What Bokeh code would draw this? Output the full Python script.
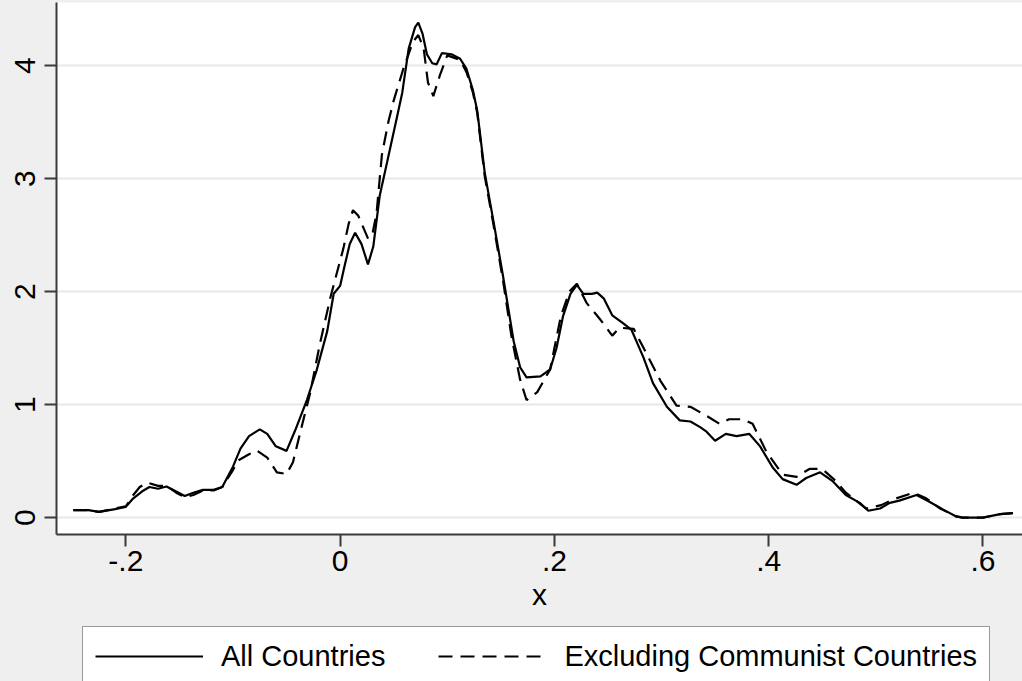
from bokeh.plotting import figure
from bokeh.layouts import column
from bokeh.models import Range1d, Legend, LegendItem, FixedTicker
from bokeh.embed import file_html
from bokeh.resources import INLINE

# ---- data ----
x_all = [-0.249, -0.235, -0.225, -0.210, -0.200, -0.193, -0.185, -0.178, -0.170, -0.162,
         -0.153, -0.145, -0.137, -0.128, -0.118, -0.110, -0.100, -0.093, -0.085, -0.075,
         -0.068, -0.060, -0.050, -0.042, -0.031, -0.022, -0.012, -0.006, 0.000, 0.004,
         0.009, 0.014, 0.020, 0.026, 0.031, 0.037, 0.044, 0.053, 0.058, 0.064,
         0.070, 0.073, 0.077, 0.081, 0.086, 0.090, 0.095, 0.104, 0.112, 0.118,
         0.124, 0.128, 0.135, 0.143, 0.152, 0.162, 0.168, 0.174, 0.187, 0.196,
         0.202, 0.208, 0.215, 0.221, 0.227, 0.235, 0.240, 0.246, 0.254, 0.264,
         0.272, 0.283, 0.292, 0.305, 0.317, 0.327, 0.336, 0.342, 0.350, 0.360,
         0.370, 0.382, 0.392, 0.404, 0.413, 0.426, 0.435, 0.448, 0.460, 0.472,
         0.485, 0.493, 0.504, 0.513, 0.522, 0.538, 0.550, 0.563, 0.575, 0.581,
         0.600, 0.616, 0.628]
y_all = [0.065, 0.065, 0.050, 0.075, 0.095, 0.170, 0.230, 0.270, 0.255, 0.275,
         0.230, 0.190, 0.220, 0.245, 0.245, 0.270, 0.450, 0.610, 0.720, 0.780,
         0.740, 0.630, 0.590, 0.770, 1.040, 1.300, 1.650, 1.980, 2.050, 2.220,
         2.420, 2.520, 2.420, 2.240, 2.400, 2.850, 3.150, 3.540, 3.760, 4.150,
         4.340, 4.380, 4.280, 4.100, 4.020, 4.010, 4.110, 4.100, 4.060, 3.970,
         3.780, 3.600, 3.050, 2.630, 2.140, 1.560, 1.330, 1.240, 1.250, 1.310,
         1.500, 1.780, 1.980, 2.060, 1.980, 1.980, 1.990, 1.940, 1.790, 1.720,
         1.660, 1.420, 1.190, 0.980, 0.860, 0.850, 0.800, 0.760, 0.680, 0.740,
         0.720, 0.740, 0.630, 0.440, 0.340, 0.290, 0.350, 0.400, 0.320, 0.200,
         0.130, 0.060, 0.080, 0.130, 0.150, 0.200, 0.140, 0.070, 0.010, 0.000,
         0.000, 0.030, 0.040]

x_excl = [-0.249, -0.235, -0.225, -0.210, -0.200, -0.193, -0.187, -0.180, -0.170, -0.162,
          -0.153, -0.145, -0.137, -0.128, -0.118, -0.110, -0.100, -0.096, -0.085, -0.078,
          -0.068, -0.059, -0.050, -0.044, -0.036, -0.028, -0.019, -0.009, 0.003, 0.008,
          0.012, 0.017, 0.026, 0.030, 0.034, 0.039, 0.045, 0.050, 0.059, 0.068,
          0.073, 0.078, 0.082, 0.087, 0.093, 0.100, 0.112, 0.118, 0.124, 0.128,
          0.135, 0.143, 0.152, 0.160, 0.168, 0.174, 0.184, 0.196, 0.206, 0.214,
          0.221, 0.230, 0.243, 0.254, 0.261, 0.274, 0.286, 0.299, 0.314, 0.327,
          0.342, 0.354, 0.363, 0.376, 0.385, 0.398, 0.413, 0.426, 0.438, 0.450,
          0.463, 0.472, 0.491, 0.505, 0.516, 0.535, 0.547, 0.560, 0.575, 0.581,
          0.600, 0.616, 0.628]
y_excl = [0.065, 0.065, 0.050, 0.080, 0.100, 0.200, 0.270, 0.310, 0.280, 0.280,
          0.220, 0.180, 0.200, 0.240, 0.240, 0.270, 0.420, 0.500, 0.560, 0.595,
          0.530, 0.400, 0.385, 0.490, 0.800, 1.100, 1.530, 1.950, 2.380, 2.600,
          2.720, 2.670, 2.470, 2.500, 2.690, 3.210, 3.500, 3.690, 3.970, 4.210,
          4.270, 4.150, 3.850, 3.730, 3.910, 4.090, 4.050, 3.940, 3.760, 3.580,
          3.020, 2.600, 2.100, 1.600, 1.220, 1.040, 1.110, 1.310, 1.780, 2.000,
          2.070, 1.900, 1.750, 1.610, 1.680, 1.670, 1.450, 1.210, 0.990, 0.980,
          0.900, 0.830, 0.870, 0.870, 0.830, 0.580, 0.380, 0.360, 0.430, 0.430,
          0.320, 0.220, 0.080, 0.110, 0.160, 0.220, 0.170, 0.080, 0.010, 0.000,
          0.000, 0.030, 0.040]

x_ticks = [-0.2, 0, 0.2, 0.4, 0.6]
x_tick_labels = ["-.2", "0", ".2", ".4", ".6"]
y_ticks = [0, 1, 2, 3, 4]
series_labels = ["All Countries", "Excluding Communist Countries"]

FONT = "Liberation Sans"
BG = "#efefef"

# ---------------- main plot ----------------
p = figure(frame_width=966, frame_height=532,
           x_range=Range1d(-0.2647, 0.6369), y_range=Range1d(-0.150, 4.558),
           output_backend="svg", toolbar_location=None,
           min_border_left=56, min_border_right=0, min_border_top=2, min_border_bottom=86,
           background_fill_color="white", border_fill_color=BG,
           outline_line_color=None)

p.xgrid.grid_line_color = None
p.ygrid.grid_line_color = "#e8e8e8"
p.ygrid.grid_line_width = 2

p.xaxis.ticker = FixedTicker(ticks=x_ticks)
p.xaxis.major_label_overrides = {t: l for t, l in zip(x_ticks, x_tick_labels)}
p.yaxis.ticker = FixedTicker(ticks=y_ticks)
p.yaxis.major_label_orientation = "vertical"

for ax in (p.xaxis[0], p.yaxis[0]):
    ax.axis_line_color = "#3a3a3a"
    ax.axis_line_width = 2
    ax.major_tick_line_color = "#3a3a3a"
    ax.major_tick_line_width = 2
    ax.major_tick_out = 12
    ax.major_tick_in = 0
    ax.minor_tick_line_color = None
    ax.major_label_text_font = FONT
    ax.major_label_text_font_size = "30px"
    ax.major_label_text_color = "black"
p.xaxis.major_label_standoff = 4
p.yaxis.major_label_standoff = 9

p.xaxis.axis_label = "x"
p.xaxis.axis_label_text_font = FONT
p.xaxis.axis_label_text_font_size = "30px"
p.xaxis.axis_label_text_font_style = "normal"
p.xaxis.axis_label_text_color = "black"
p.xaxis.axis_label_standoff = 4

p.line(x_all, y_all, line_color="black", line_width=2.2)
p.line(x_excl, y_excl, line_color="black", line_width=2.2, line_dash="14 8")

# ---------------- legend strip (same series, ranges kept out of view) ----------------
q = figure(frame_width=1022, frame_height=61,
           x_range=Range1d(10, 11), y_range=Range1d(10, 11),
           output_backend="svg", toolbar_location=None,
           x_axis_location=None, y_axis_location=None,
           min_border_left=0, min_border_right=0, min_border_top=0, min_border_bottom=0,
           background_fill_color=BG, border_fill_color=BG, outline_line_color=None)
q.xgrid.grid_line_color = None
q.ygrid.grid_line_color = None
k1 = q.line(x_all, y_all, line_color="black", line_width=2.2)
k2 = q.line(x_excl, y_excl, line_color="black", line_width=2.2, line_dash="14 8")

legend = Legend(items=[LegendItem(label=series_labels[0], renderers=[k1]),
                       LegendItem(label=series_labels[1], renderers=[k2])],
                location=(82, -5), orientation="horizontal",
                padding=12, spacing=53, margin=0,
                glyph_width=108, glyph_height=34, label_height=34, label_standoff=18,
                label_text_font=FONT, label_text_font_size="29px",
                label_text_color="black",
                border_line_color="#333333", border_line_width=1.5,
                background_fill_color="white", background_fill_alpha=1.0)
q.add_layout(legend, "center")

layout = column(p, q, spacing=0, styles={"background-color": BG})
open("out.html", "w").write(file_html(layout, INLINE))
